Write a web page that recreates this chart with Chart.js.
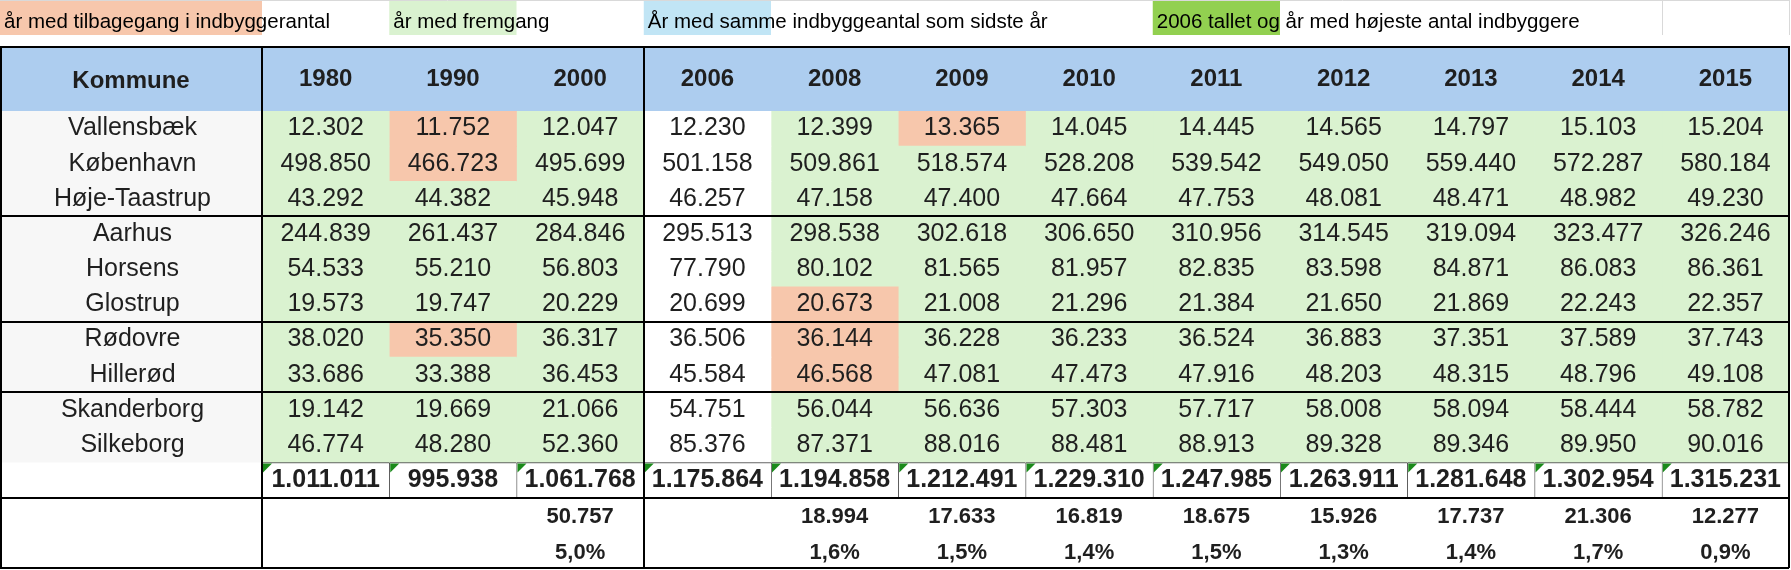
<!DOCTYPE html>
<html>
<head>
<meta charset="utf-8">
<script src="https://cdn.jsdelivr.net/npm/chart.js"></script>
<style>
  html, body { margin: 0; padding: 0; background: #fff; }
  #wrap { width: 1791px; height: 570px; }
</style>
</head>
<body>
<div id="wrap"><canvas id="myChart"></canvas></div>
<script>
const years = ["1980", "1990", "2000", "2006", "2008", "2009", "2010", "2011", "2012", "2013", "2014", "2015"];
const kommuner = ["Vallensbæk", "København", "Høje-Taastrup", "Aarhus", "Horsens", "Glostrup", "Rødovre", "Hillerød", "Skanderborg", "Silkeborg"];

const vallensbaek = [12302, 11752, 12047, 12230, 12399, 13365, 14045, 14445, 14565, 14797, 15103, 15204];
const koebenhavn = [498850, 466723, 495699, 501158, 509861, 518574, 528208, 539542, 549050, 559440, 572287, 580184];
const hoejeTaastrup = [43292, 44382, 45948, 46257, 47158, 47400, 47664, 47753, 48081, 48471, 48982, 49230];
const aarhus = [244839, 261437, 284846, 295513, 298538, 302618, 306650, 310956, 314545, 319094, 323477, 326246];
const horsens = [54533, 55210, 56803, 77790, 80102, 81565, 81957, 82835, 83598, 84871, 86083, 86361];
const glostrup = [19573, 19747, 20229, 20699, 20673, 21008, 21296, 21384, 21650, 21869, 22243, 22357];
const roedovre = [38020, 35350, 36317, 36506, 36144, 36228, 36233, 36524, 36883, 37351, 37589, 37743];
const hilleroed = [33686, 33388, 36453, 45584, 46568, 47081, 47473, 47916, 48203, 48315, 48796, 49108];
const skanderborg = [19142, 19669, 21066, 54751, 56044, 56636, 57303, 57717, 58008, 58094, 58444, 58782];
const silkeborg = [46774, 48280, 52360, 85376, 87371, 88016, 88481, 88913, 89328, 89346, 89950, 90016];

const totaler = [1011011, 995938, 1061768, 1175864, 1194858, 1212491, 1229310, 1247985, 1263911, 1281648, 1302954, 1315231];
const fremgang = [null, null, 50757, null, 18994, 17633, 16819, 18675, 15926, 17737, 21306, 12277];
const fremgangPct = [null, null, 5.0, null, 1.6, 1.5, 1.4, 1.5, 1.3, 1.4, 1.7, 0.9];

// celler markeret med tilbagegang: [række, kolonne]
const tilbagegang = [[0, 1], [1, 1], [6, 1], [5, 4], [6, 4], [7, 4], [0, 5]];

const forklaring = ["år med tilbagegang i indbyggerantal", "år med fremgang", "År med samme indbyggeantal som sidste år", "2006 tallet og år med højeste antal indbyggere"];

const tabel = [vallensbaek, koebenhavn, hoejeTaastrup, aarhus, horsens, glostrup, roedovre, hilleroed, skanderborg, silkeborg];
const raekker = [...kommuner, "", "", ""];

const ORANGE = "#F7C7AC";
const GROEN = "#DAF2D0";
const BLAA = "#C1E5F5";
const MOERKGROEN = "#92D050";
const HOVED = "#ADCDEF";
const GRAA = "#F7F7F7";
const TEKST = "#1f1f1f";
const FONT = "'Liberation Sans', Arial, sans-serif";

function tal(n) {
    return String(n).replace(/\B(?=(\d{3})+(?!\d))/g, ".");
}

function procent(v) {
    return v.toFixed(1).replace(".", ",") + "%";
}

function celleFarve(r, c) {
    if (r >= 10) return "#ffffff";
    if (tilbagegang.some(t => t[0] === r && t[1] === c)) return ORANGE;
    if (c === 3) return "#ffffff"; // 2006 kolonnen
    return GROEN;
}

const tabelPlugin = {
    id: "tabel",
    beforeDraw(chart) {
        const ctx = chart.ctx;
        const x = chart.scales.x;
        const y = chart.scales.y;
        const area = chart.chartArea;
        ctx.save();

        // forklaring øverst
        ctx.strokeStyle = "#d9d9d9";
        ctx.lineWidth = 1;
        ctx.beginPath();
        ctx.moveTo(0, 0.5); ctx.lineTo(area.right + 1, 0.5);
        [11, 12].forEach(c => {
            const px = Math.round(x.getPixelForValue(c)) + 0.5;
            ctx.moveTo(px, 0); ctx.lineTo(px, 35);
        });
        ctx.stroke();

        const farver = [ORANGE, GROEN, BLAA, MOERKGROEN];
        const kolonner = [-1, 1, 3, 7];
        kolonner.forEach((c, i) => {
            const x0 = c < 0 ? 0 : x.getPixelForValue(c);
            const x1 = c < 0 ? area.left : x.getPixelForValue(c + 1);
            ctx.fillStyle = farver[i];
            ctx.fillRect(x0, 1, x1 - x0, 34);
        });
        ctx.fillStyle = "#000";
        ctx.font = "20.5px " + FONT;
        ctx.textAlign = "left";
        ctx.textBaseline = "alphabetic";
        kolonner.forEach((c, i) => {
            const x0 = c < 0 ? 0 : x.getPixelForValue(c);
            ctx.fillText(forklaring[i], x0 + 4, 28);
        });

        // overskriftsrække
        ctx.fillStyle = HOVED;
        ctx.fillRect(0, x.top, area.right, x.bottom - x.top);

        // kommune-kolonnen
        ctx.fillStyle = GRAA;
        ctx.fillRect(0, area.top, area.left, y.getPixelForValue(9.5) - area.top);
        ctx.restore();
    },
    afterDatasetsDraw(chart) {
        const ctx = chart.ctx;
        const x = chart.scales.x;
        const y = chart.scales.y;
        ctx.save();
        ctx.textAlign = "center";
        ctx.textBaseline = "middle";
        ctx.fillStyle = TEKST;

        ctx.font = "25px " + FONT;
        tabel.forEach((row, r) => {
            row.forEach((v, c) => {
                ctx.fillText(tal(v), x.getPixelForValue(c + 0.5), y.getPixelForValue(r));
            });
        });

        ctx.font = "bold 25px " + FONT;
        totaler.forEach((v, c) => {
            ctx.fillText(tal(v), x.getPixelForValue(c + 0.5), y.getPixelForValue(10));
        });

        ctx.font = "bold 22px " + FONT;
        fremgang.forEach((v, c) => {
            if (v === null) return;
            ctx.fillText(tal(v), x.getPixelForValue(c + 0.5), y.getPixelForValue(11) + 2);
        });
        fremgangPct.forEach((v, c) => {
            if (v === null) return;
            ctx.fillText(procent(v), x.getPixelForValue(c + 0.5), y.getPixelForValue(12) + 3);
        });

        // små grønne trekanter i totalrækken
        ctx.fillStyle = "#1a8a1a";
        const top = y.getPixelForValue(9.5);
        totaler.forEach((v, c) => {
            const x0 = x.getPixelForValue(c) + 1;
            ctx.beginPath();
            ctx.moveTo(x0, top + 1);
            ctx.lineTo(x0 + 9, top + 1);
            ctx.lineTo(x0, top + 10);
            ctx.closePath();
            ctx.fill();
        });
        ctx.restore();
    },
    afterDraw(chart) {
        const ctx = chart.ctx;
        const x = chart.scales.x;
        const area = chart.chartArea;
        ctx.save();
        ctx.strokeStyle = "#000";
        ctx.lineWidth = 2;
        ctx.beginPath();
        ctx.moveTo(0, x.top); ctx.lineTo(area.right + 1, x.top);
        ctx.moveTo(1, x.top); ctx.lineTo(1, area.bottom);
        ctx.stroke();

        ctx.fillStyle = TEKST;
        ctx.font = "bold 24px " + FONT;
        ctx.textAlign = "center";
        ctx.textBaseline = "middle";
        ctx.fillText("Kommune", area.left / 2, (x.top + x.bottom) / 2 + 2);
        ctx.restore();
    }
};

drawTable();

function drawTable() {
    const datasets = years.map((year, c) => ({
        label: year,
        data: raekker.slice(0, 11).map((k, r) => ({ y: r, x: [c, c + 1] })),
        backgroundColor: (ctx) => celleFarve(ctx.dataIndex, c),
        borderColor: "#333",
        borderWidth: (ctx) => ctx.dataIndex === 10 ? { top: 1, left: 1, right: 0, bottom: 0 } : 0,
        borderSkipped: false,
        grouped: false,
        categoryPercentage: 1,
        barPercentage: 1
    }));

    new Chart(document.querySelector("#myChart"), {
        type: "bar",
        data: { labels: raekker, datasets: datasets },
        options: {
            indexAxis: "y",
            animation: false,
            responsive: true,
            maintainAspectRatio: false,
            layout: { padding: { top: 47, right: 2, bottom: 2, left: 0 } },
            plugins: { legend: { display: false }, tooltip: { enabled: false } },
            scales: {
                x: {
                    type: "linear",
                    position: "top",
                    min: 0,
                    max: years.length,
                    afterBuildTicks: (scale) => { scale.ticks = years.map((yr, i) => ({ value: i + 0.5 })); },
                    afterFit: (scale) => { scale.height = 64; },
                    ticks: {
                        autoSkip: false,
                        maxRotation: 0,
                        padding: -47,
                        color: TEKST,
                        font: { family: FONT, size: 24, weight: "bold" },
                        callback: (v, i) => years[i]
                    },
                    grid: {
                        offset: true,
                        z: 1,
                        color: "#000",
                        tickLength: 64,
                        lineWidth: (ctx) => (ctx.index === undefined || ctx.index === 0 || ctx.index === 3) ? 2 : 0
                    },
                    border: { display: false }
                },
                y: {
                    type: "category",
                    afterFit: (scale) => { scale.width = 262; },
                    ticks: {
                        autoSkip: false,
                        crossAlign: "center",
                        padding: -211,
                        color: TEKST,
                        font: { family: FONT, size: 25 }
                    },
                    grid: {
                        offset: true,
                        z: 1,
                        color: "#000",
                        tickLength: 262,
                        lineWidth: (ctx) => (ctx.index === undefined || [3, 6, 8, 11].includes(ctx.index)) ? 2 : 0
                    },
                    border: { display: false }
                }
            }
        },
        plugins: [tabelPlugin]
    });
}
</script>
</body>
</html>
